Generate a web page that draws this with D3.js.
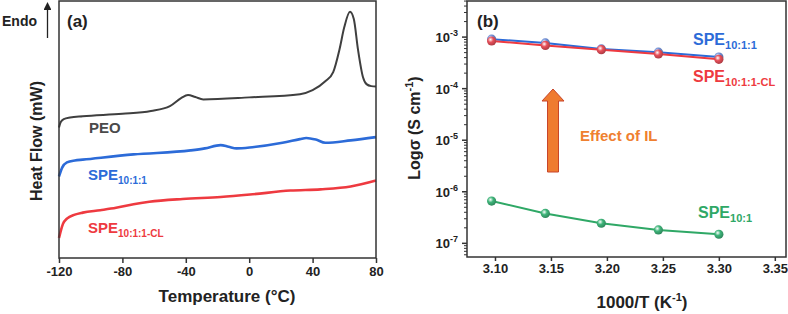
<!DOCTYPE html>
<html>
<head>
<meta charset="utf-8">
<script src="https://cdn.jsdelivr.net/npm/d3@7"></script>
<style>
  body { margin: 0; background: #fff; }
  svg { display: block; font-family: "Liberation Sans", Arial, sans-serif; font-weight: bold; }
</style>
</head>
<body>
<div id="chart"></div>
<script>
// ---- panel (a): DSC curves, temperature (°C) vs heat flow (arbitrary mW offset) ----
let peoT    = [-120, -119, -117, -113, -105, -80, -62, -50, -43, -38.6, -34, -29, 0, 32, 40, 48, 53, 57, 60, 63.6, 66, 68.6, 71.8, 74, 77, 80];
let peoHF   = [3.25, 3.38, 3.46, 3.5, 3.53, 3.59, 3.66, 3.78, 3.98, 4.06, 4.01, 3.95, 4.0, 4.08, 4.18, 4.4, 4.63, 5.2, 5.75, 6.13, 5.95, 5.2, 4.5, 4.33, 4.28, 4.27];
let speT    = [-120, -118, -115, -110, -105, -73, -37, -28, -18, -13, -8, 2, 21, 32, 36, 42, 48, 64, 80];
let speHF   = [2.03, 2.25, 2.38, 2.43, 2.45, 2.58, 2.68, 2.73, 2.81, 2.77, 2.73, 2.76, 2.87, 2.96, 2.99, 2.95, 2.87, 2.93, 3.01];
let speClT  = [-120, -118.7, -117.5, -115, -110, -105, -94, -84, -73, -63, -42, -18, 0.5, 26, 45, 64, 80];
let speClHF = [0.5, 0.7, 0.85, 0.98, 1.08, 1.13, 1.19, 1.25, 1.34, 1.4, 1.47, 1.52, 1.58, 1.68, 1.71, 1.78, 1.93];
let tempTicks = [-120, -80, -40, 0, 40, 80];

// ---- panel (b): conductivity vs 1000/T ----
let invT      = [3.097, 3.145, 3.195, 3.246, 3.300];
let sigma111  = [9.1e-4, 7.7e-4, 5.9e-4, 5.1e-4, 4.1e-4];
let sigma111CL = [8.4e-4, 6.9e-4, 5.7e-4, 4.7e-4, 3.7e-4];
let sigma101  = [6.6e-7, 3.8e-7, 2.45e-7, 1.82e-7, 1.5e-7];
let invTTicks = [3.10, 3.15, 3.20, 3.25, 3.30, 3.35];
let logTicks  = [-3, -4, -5, -6, -7];

var svg = d3.select("#chart").append("svg")
	.attr("width", 788)
	.attr("height", 314);

var ink = "#333";
var cBlack = "#3f3f3f", cBlue = "#2c6bd8", cRed = "#ee3a40", cGreen = "#2fa866";

// ================= panel (a) =================
var xA = d3.scaleLinear().domain([-120, 80]).range([59, 376]);
var yA = d3.scaleLinear().domain([0, 6.4]).range([258, 1]);

var lineA = d3.line()
	.x(d => xA(d[0]))
	.y(d => yA(d[1]))
	.curve(d3.curveMonotoneX);

function drawCurve(ts, vs, color, w) {
	svg.append("path")
		.datum(ts.map((t, i) => [t, vs[i]]))
		.attr("d", lineA)
		.attr("fill", "none")
		.attr("stroke", color)
		.attr("stroke-width", w)
		.attr("stroke-linejoin", "round");
}
drawCurve(peoT, peoHF, cBlack, 2);
drawCurve(speT, speHF, cBlue, 2.6);
drawCurve(speClT, speClHF, cRed, 2.6);

// frame
svg.append("rect")
	.attr("x", xA(-120)).attr("y", yA(6.4))
	.attr("width", xA(80) - xA(-120)).attr("height", yA(0) - yA(6.4))
	.attr("fill", "none").attr("stroke", ink).attr("stroke-width", 1.5);

var axA = svg.append("g")
	.attr("transform", "translate(0," + yA(0) + ")")
	.call(d3.axisBottom(xA).tickValues(tempTicks).tickSize(5).tickPadding(4).tickFormat(d => String(d)));
axA.select(".domain").remove();
axA.selectAll("line").attr("stroke", ink).attr("stroke-width", 1.5);
axA.selectAll("text").attr("font-size", 13).attr("font-weight", "bold").attr("fill", "#222")
	.attr("font-family", "Liberation Sans, Arial, sans-serif");

svg.append("text").attr("x", 227).attr("y", 302).attr("text-anchor", "middle")
	.attr("font-size", 17).attr("fill", "#222").text("Temperature (°C)");
svg.append("text").attr("transform", "translate(42,141) rotate(-90)").attr("text-anchor", "middle")
	.attr("font-size", 16).attr("fill", "#222").text("Heat Flow (mW)");

svg.append("text").attr("x", 67).attr("y", 27).attr("font-size", 17).attr("fill", "#222").text("(a)");
svg.append("text").attr("x", 2).attr("y", 26).attr("font-size", 14).attr("fill", "#222").text("Endo");

// Endo arrow
svg.append("defs").append("marker")
	.attr("id", "endoHead").attr("viewBox", "0 0 10 10").attr("refX", 5).attr("refY", 5)
	.attr("markerWidth", 6).attr("markerHeight", 6).attr("orient", "auto")
	.append("path").attr("d", "M0,0 L10,5 L0,10 z").attr("fill", "#222");
svg.append("line").attr("x1", 47.5).attr("y1", 38).attr("x2", 47.5).attr("y2", 6)
	.attr("stroke", "#222").attr("stroke-width", 1.3).attr("marker-end", "url(#endoHead)");

function subLabel(x, y, main, sub, color, size, subSize) {
	var t = svg.append("text").attr("x", x).attr("y", y).attr("font-size", size).attr("fill", color);
	t.append("tspan").text(main);
	if (sub) t.append("tspan").attr("dy", 4).attr("font-size", subSize).text(sub);
	return t;
}
subLabel(89, 133, "PEO", null, "#4a4a4a", 15);
subLabel(88, 180, "SPE", "10:1:1", cBlue, 15, 10);
subLabel(88, 233, "SPE", "10:1:1-CL", cRed, 15, 10);

// ================= panel (b) =================
var xB = d3.scaleLinear().domain([3.075, 3.36]).range([467, 786]);
var yB = d3.scaleLog().domain([Math.pow(10, -7.265), Math.pow(10, -2.3)]).range([257, 1]);

// sphere gradients
var defs = svg.select("defs");
function sphereGrad(id, base) {
	var g = defs.append("radialGradient").attr("id", id)
		.attr("cx", "38%").attr("cy", "35%").attr("r", "65%");
	g.append("stop").attr("offset", "0%").attr("stop-color", "#fff");
	g.append("stop").attr("offset", "45%").attr("stop-color", base);
	g.append("stop").attr("offset", "100%").attr("stop-color", d3.color(base).darker(0.8));
}
sphereGrad("gBlue", "#6f8fd8");
sphereGrad("gRed", "#e8505a");
sphereGrad("gGreen", "#3fb57a");

var lineB = d3.line().x(d => xB(d[0])).y(d => yB(d[1]));

function drawSeries(vals, color, grad) {
	var pts = invT.map((x, i) => [x, vals[i]]);
	svg.append("path").datum(pts).attr("d", lineB)
		.attr("fill", "none").attr("stroke", color).attr("stroke-width", 2);
	svg.append("g").selectAll("circle").data(pts).enter().append("circle")
		.attr("cx", d => xB(d[0]))
		.attr("cy", d => yB(d[1]))
		.attr("r", 4.6)
		.attr("fill", "url(#" + grad + ")");
}
drawSeries(sigma111, cBlue, "gBlue");
drawSeries(sigma111CL, cRed, "gRed");
drawSeries(sigma101, cGreen, "gGreen");

// frame
svg.append("rect")
	.attr("x", 467).attr("y", 1)
	.attr("width", 786 - 467).attr("height", 256)
	.attr("fill", "none").attr("stroke", ink).attr("stroke-width", 1.5);

var axBx = svg.append("g")
	.attr("transform", "translate(0,257)")
	.call(d3.axisBottom(xB).tickValues(invTTicks).tickSize(4).tickPadding(3).tickFormat(d3.format(".2f")));
axBx.select(".domain").remove();
axBx.selectAll("line").attr("stroke", ink).attr("stroke-width", 1.5);
axBx.selectAll("text").attr("font-size", 13).attr("font-weight", "bold").attr("fill", "#222")
	.attr("font-family", "Liberation Sans, Arial, sans-serif");

// log ticks: major + minor
var minorVals = [];
for (let e = -8; e <= -3; e++) {
	for (let m = 2; m <= 9; m++) {
		let v = m * Math.pow(10, e);
		if (v >= yB.domain()[0] && v <= yB.domain()[1]) minorVals.push(v);
	}
}
svg.append("g").selectAll("line").data(minorVals).enter().append("line")
	.attr("x1", 467).attr("x2", 464)
	.attr("y1", d => yB(d)).attr("y2", d => yB(d))
	.attr("stroke", ink).attr("stroke-width", 1);
var majors = svg.append("g").selectAll("g").data(logTicks).enter().append("g")
	.attr("transform", d => "translate(0," + yB(Math.pow(10, d)) + ")");
majors.append("line").attr("x1", 467).attr("x2", 462).attr("stroke", ink).attr("stroke-width", 1.5);
var mt = majors.append("text").attr("x", 458).attr("y", 5).attr("text-anchor", "end")
	.attr("font-size", 13).attr("fill", "#222");
mt.append("tspan").text("10");
mt.append("tspan").attr("dy", -6).attr("font-size", 9).text(d => "-" + (-d));

svg.append("text").attr("x", 642).attr("y", 308).attr("text-anchor", "middle")
	.attr("font-size", 17).attr("fill", "#222")
	.call(t => {
		t.append("tspan").text("1000/T (K");
		t.append("tspan").attr("dy", -7).attr("font-size", 11).text("-1");
		t.append("tspan").attr("dy", 7).text(")");
	});
svg.append("text").attr("transform", "translate(420,128) rotate(-90)").attr("text-anchor", "middle")
	.attr("font-size", 16).attr("fill", "#222")
	.call(t => {
		t.append("tspan").text("Logσ (S cm");
		t.append("tspan").attr("dy", -7).attr("font-size", 11).text("-1");
		t.append("tspan").attr("dy", 7).text(")");
	});

svg.append("text").attr("x", 477).attr("y", 27).attr("font-size", 17).attr("fill", "#222").text("(b)");

subLabel(693, 45, "SPE", "10:1:1", cBlue, 16, 11);
subLabel(693, 82, "SPE", "10:1:1-CL", cRed, 16, 11);
subLabel(698, 218, "SPE", "10:1", cGreen, 16, 11);

// "Effect of IL" arrow
var ax0 = 553, tipY = 89, headY = 101, baseY = 172, shaftW = 5.5, headW = 11;
svg.append("path")
	.attr("d", "M" + (ax0 - shaftW) + "," + baseY + " L" + (ax0 - shaftW) + "," + headY +
		" L" + (ax0 - headW) + "," + headY + " L" + ax0 + "," + tipY +
		" L" + (ax0 + headW) + "," + headY + " L" + (ax0 + shaftW) + "," + headY +
		" L" + (ax0 + shaftW) + "," + baseY + " Z")
	.attr("fill", "#ef7b30").attr("stroke", "#c8452a").attr("stroke-width", 1);
svg.append("text").attr("x", 580).attr("y", 141).attr("font-size", 15).attr("fill", "#ef8030").text("Effect of IL");
</script>
</body>
</html>
